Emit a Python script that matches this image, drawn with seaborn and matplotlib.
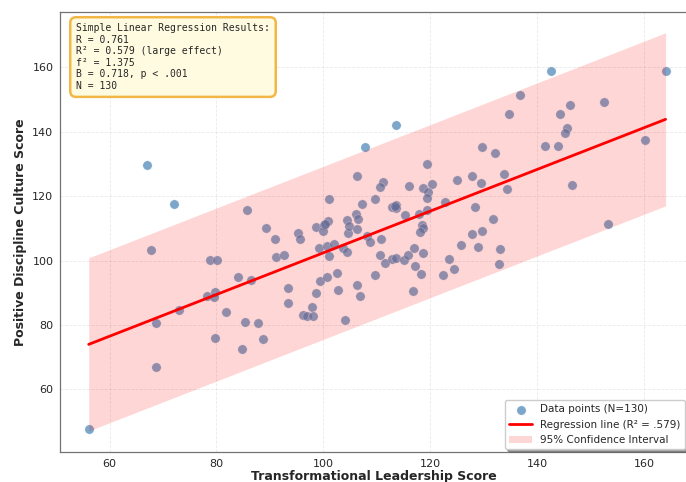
import numpy as np
import pandas as pd
import matplotlib
matplotlib.use('Agg')
import matplotlib.pyplot as plt
import seaborn as sns

# Transformational leadership (x) vs positive discipline culture (y), N=130
leadership = [
    67.0, 72.0, 67.7, 85.7, 89.3, 91.0, 91.1, 92.6, 78.7, 80.1,
    84.1, 86.5, 78.3, 79.8, 79.6, 72.9, 68.7, 81.7, 85.3, 87.7,
    79.8, 88.7, 84.7, 68.6, 56.1, 95.3, 95.7, 98.7, 100.1, 99.9,
    100.8, 101.0, 104.5, 104.6, 104.7, 106.1, 106.5, 106.3, 99.1, 100.7,
    101.9, 101.0, 103.7, 104.4, 93.3, 93.4, 98.7, 99.4, 100.7, 102.5,
    102.7, 97.9, 96.1, 97.0, 98.0, 104.0, 108.2, 108.8, 110.7, 110.5,
    111.5, 112.8, 113.6, 115.0, 115.8, 117.0, 118.6, 117.1, 118.3, 116.7,
    118.4, 118.7, 118.0, 127.7, 125.7, 123.4, 124.4, 122.3, 106.2, 106.9,
    109.7, 106.2, 119.3, 111.1, 110.5, 116.0, 118.6, 120.4, 119.6, 119.4,
    122.7, 107.2, 109.7, 112.8, 113.5, 113.5, 115.2, 117.9, 119.4, 113.5,
    107.7, 124.9, 127.8, 129.6, 132.1, 129.4, 133.7, 134.3, 128.4, 131.7,
    129.6, 128.9, 133.1, 132.9, 142.6, 164.0, 136.7, 134.8, 144.2, 146.2,
    152.5, 145.5, 145.2, 141.5, 143.9, 160.1, 146.5, 153.2, 100.3, 113.4,
]
culture = [
    129.6, 117.6, 103.2, 115.7, 110.1, 106.7, 101.2, 101.8, 100.1, 100.2,
    94.8, 93.9, 89.0, 90.3, 88.8, 84.6, 80.6, 84.1, 81.0, 80.6,
    75.9, 75.5, 72.5, 67.0, 47.8, 108.5, 106.8, 110.4, 111.2, 109.1,
    112.3, 119.0, 112.7, 108.6, 110.7, 114.5, 113.0, 109.8, 103.9, 104.4,
    105.2, 101.3, 103.9, 102.7, 91.4, 86.8, 89.9, 93.7, 94.8, 96.0,
    91.0, 85.7, 83.2, 82.7, 82.9, 81.5, 107.5, 105.7, 106.7, 101.8,
    99.1, 100.5, 100.7, 100.2, 101.6, 103.8, 102.5, 98.2, 95.8, 90.7,
    110.9, 110.2, 108.9, 108.3, 104.7, 100.6, 97.4, 95.6, 92.3, 89.1,
    95.6, 126.4, 130.0, 124.4, 123.0, 123.3, 122.5, 123.9, 121.2, 119.4,
    118.2, 117.6, 119.2, 116.6, 117.3, 116.2, 114.2, 114.6, 115.6, 142.0,
    135.4, 125.1, 126.4, 135.3, 133.4, 124.1, 127.0, 122.2, 116.5, 112.8,
    109.1, 104.2, 103.6, 98.8, 159.0, 159.0, 151.3, 145.6, 145.6, 148.3,
    149.2, 141.1, 139.6, 135.7, 135.7, 137.3, 123.4, 111.4, 111.4, 116.9,
]

stats_text = ("Simple Linear Regression Results:\n"
              "R = 0.761\n"
              "R\u00b2 = 0.579 (large effect)\n"
              "f\u00b2 = 1.375\n"
              "B = 0.718, p < .001\n"
              "N = 130")

df = pd.DataFrame({'Leadership': leadership, 'Culture': culture})

# fit + constant-width band (1.96 * residual sd)
slope, intercept = np.polyfit(df['Leadership'], df['Culture'], 1)
resid = df['Culture'] - (slope * df['Leadership'] + intercept)
half = 1.96 * resid.std(ddof=2)
x_line = np.linspace(df['Leadership'].min(), df['Leadership'].max(), 100)
y_line = slope * x_line + intercept

sns.set_style('whitegrid')
plt.rcParams['font.family'] = ['DejaVu Sans']

fig = plt.figure(figsize=(6.86, 4.82), dpi=100)
ax = fig.add_axes([0.088, 0.062, 0.915, 0.913])

sns.scatterplot(data=df, x='Leadership', y='Culture', ax=ax, s=45,
                color='steelblue', alpha=0.7, edgecolor='white', linewidth=0.3,
                label='Data points (N=130)', zorder=2)
ax.plot(x_line, y_line, color='red', lw=2, label='Regression line (R\u00b2 = .579)', zorder=4)
ax.fill_between(x_line, y_line - half, y_line + half, color='red', alpha=0.16,
                linewidth=0, label='95% Confidence Interval', zorder=3)

ax.set_xlim(50.8, 168.2)
ax.set_ylim(40.5, 177.2)
ax.set_xticks([60, 80, 100, 120, 140, 160])
ax.set_yticks([60, 80, 100, 120, 140, 160])
ax.tick_params(labelsize=8, length=3, color='0.4', pad=2)
ax.grid(True, linestyle='--', alpha=0.4, lw=0.6)
ax.set_xlabel('Transformational Leadership Score', fontsize=9, fontweight='bold', labelpad=1)
ax.set_ylabel('Positive Discipline Culture Score', fontsize=9, fontweight='bold', labelpad=4)
for s in ax.spines.values():
    s.set_color('0.45')
    s.set_linewidth(0.9)

ax.text(0.025, 0.975, stats_text, transform=ax.transAxes, va='top', ha='left',
        family='DejaVu Sans Mono', fontsize=7,
        bbox=dict(boxstyle='round,pad=0.6', facecolor='#FFFBE0', edgecolor='#F2B33D',
                  linewidth=1.8, alpha=0.95), zorder=6)

ax.legend(loc='lower right', fontsize=7.5, frameon=True, shadow=True,
          borderaxespad=0.3, handlelength=2.2)

fig.savefig('out.png', dpi=100, facecolor='white')
